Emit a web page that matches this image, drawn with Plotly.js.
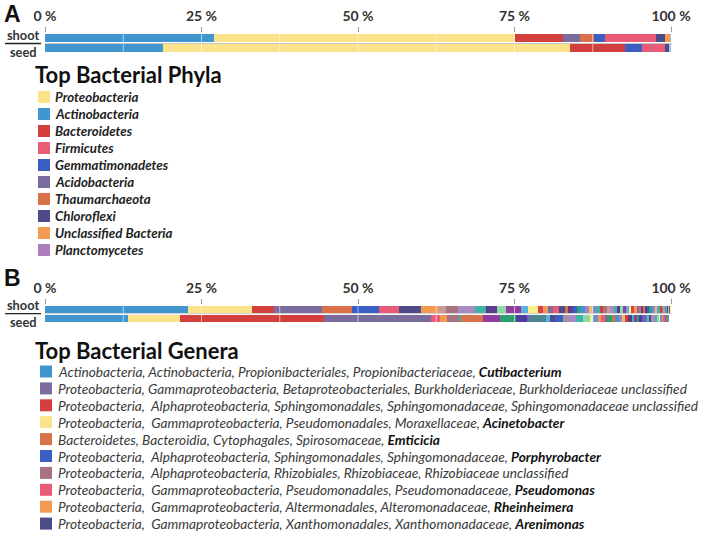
<!DOCTYPE html>
<html><head><meta charset="utf-8">
<script src="https://cdn.plot.ly/plotly-3.0.1.min.js"></script>
<style>html,body{margin:0;padding:0;background:#fff}#chart{width:708px;height:533px}</style>
</head><body><div id="chart"></div>
<script>
// ---------- DATA ----------
const samples = ['shoot', 'seed'];
const tickValues = [0, 25, 50, 75, 100];
const tickLabels = ['0 %', '25 %', '50 %', '75 %', '100 %'];

// Panel A: phyla (legend order)
const phylaNames = ['Proteobacteria', 'Actinobacteria', 'Bacteroidetes', 'Firmicutes', 'Gemmatimonadetes',
  'Acidobacteria', 'Thaumarchaeota', 'Chloroflexi', 'Unclassified Bacteria', 'Planctomycetes'];
const phylaColors = ['#fce38a', '#4096cf', '#d33f3c', '#ea5b78', '#3a5ec4',
  '#7a6c9d', '#d9714b', '#4d4b8a', '#f49a50', '#ad80bd'];
// stacking order and values (% relative abundance) per sample
const phylaShootOrder = ['Actinobacteria', 'Proteobacteria', 'Bacteroidetes', 'Acidobacteria', 'Thaumarchaeota',
  'Gemmatimonadetes', 'Firmicutes', 'Chloroflexi', 'Unclassified Bacteria', 'Other'];
const phylaShootValues = [27.0, 48.1, 7.7, 2.6, 2.3, 1.8, 8.1, 1.5, 0.7, 0.3];
const phylaSeedOrder = ['Actinobacteria', 'Proteobacteria', 'Bacteroidetes', 'Gemmatimonadetes', 'Firmicutes',
  'Chloroflexi', 'Other'];
const phylaSeedValues = [18.8, 65.0, 8.8, 2.7, 3.7, 0.7, 0.3];

// Panel B: genera (legend order)
const generaNames = ['Cutibacterium', 'Burkholderiaceae unclassified', 'Sphingomonadaceae unclassified',
  'Acinetobacter', 'Emticicia', 'Porphyrobacter', 'Rhizobiaceae unclassified', 'Pseudomonas',
  'Rheinheimera', 'Arenimonas'];
const generaLineage = [
  'Actinobacteria, Actinobacteria, Propionibacteriales, Propionibacteriaceae,',
  'Proteobacteria, Gammaproteobacteria, Betaproteobacteriales, Burkholderiaceae,',
  'Proteobacteria,\u00a0 Alphaproteobacteria, Sphingomonadales, Sphingomonadaceae,',
  'Proteobacteria,\u00a0 Gammaproteobacteria, Pseudomonadales, Moraxellaceae,',
  'Bacteroidetes, Bacteroidia, Cytophagales, Spirosomaceae,',
  'Proteobacteria,\u00a0 Alphaproteobacteria, Sphingomonadales, Sphingomonadaceae,',
  'Proteobacteria,\u00a0 Alphaproteobacteria, Rhizobiales, Rhizobiaceae,',
  'Proteobacteria,\u00a0 Gammaproteobacteria, Pseudomonadales, Pseudomonadaceae,',
  'Proteobacteria,\u00a0 Gammaproteobacteria, Altermonadales, Alteromonadaceae,',
  'Proteobacteria,\u00a0 Gammaproteobacteria, Xanthomonadales, Xanthomonadaceae,'];
const generaBold = [true, false, false, true, true, true, false, true, true, true];
const generaColors = ['#4096cf', '#7a6c9d', '#d33f3c', '#fce38a', '#d9714b', '#3a5ec4', '#a8737f',
  '#ea5b78', '#f49a50', '#4d4b8a'];

const shootGenusOrder = ['Cutibacterium', 'Acinetobacter', 'Sphingomonadaceae unclassified',
  'Burkholderiaceae unclassified', 'Emticicia', 'Porphyrobacter', 'Pseudomonas', 'Arenimonas',
  'Rheinheimera', 'other', 'Rhizobiaceae unclassified'];
const shootGenusValues = [22.8, 10.2, 3.6, 7.7, 4.8, 4.2, 3.2, 3.6, 2.8, 1.1, 2.0];
const shootOtherValues = [2.7, 1.7, 1.8, 1.5, 2.4, 1.0, 1.6, 0.9, 0.8, 0.7, 1.0, 0.9, 0.5, 0.9, 0.6, 0.5,
  0.8, 0.6, 0.7, 0.5, 0.6, 0.4, 0.7, 0.5, 0.6, 0.4, 0.5, 0.6, 0.4, 0.5, 0.3, 0.5, 0.4, 0.4, 0.3, 0.3,
  0.3, 0.4, 0.3, 0.3, 0.4, 0.3, 0.2, 0.3, 0.2, 0.3, 0.2, 0.2, 0.2, 0.2, 0.2, 0.1, 0.2, 0.1, 0.1];

const seedGenusOrder = ['Cutibacterium', 'Acinetobacter', 'Sphingomonadaceae unclassified',
  'Burkholderiaceae unclassified', 'Pseudomonas', 'Rheinheimera', 'Rhizobiaceae unclassified', 'other',
  'Emticicia', 'other', 'other', 'other', 'other', 'other', 'other', 'other', 'Porphyrobacter'];
const seedGenusValues = [13.3, 8.3, 22.9, 17.2, 1.4, 1.1, 2.0, 0.3, 3.5, 2.7, 2.5, 1.8, 0.3, 2.7, 0.6, 0.8, 1.4];
const seedOtherValues = [0.8, 1.3, 1.1, 1.0, 0.6, 0.7, 0.5, 0.6, 0.4, 0.8, 0.5, 0.6, 0.4, 0.5, 0.6, 0.5,
  0.4, 0.5, 0.3, 0.4, 0.5, 0.3, 0.4, 0.3, 0.4, 0.3, 0.3, 0.3, 0.2, 0.3, 0.2, 0.2, 0.2, 0.2, 0.1, 0.1];

// ---------- STYLE ----------
const W = 708, H = 533;
const px = x => x / W, py = y => 1 - y / H;
const FONT = 'Lato, "Open Sans", sans-serif';
const otherPhylumColor = '#9cc3e0';
const shootOtherPalette = ['#c99a9e', '#a98bc4', '#3fb3a8', '#5b3c8c', '#8fd9a8', '#8e3d9c', '#5ab0e0', '#fdf08a',
  '#d94545', '#f49a50', '#7a6c9d', '#ea5b78', '#4d4b8a', '#d9714b', '#5b3c8c', '#3a5ec4', '#2e9e6e', '#4096cf',
  '#b07fbf', '#e8c170', '#6c8fd6', '#3fb3a8', '#d33f3c', '#a8737f'];
const seedOtherPalette = ['#3fb3a8', '#8e3d9c', '#2e9e6e', '#4b3f9b', '#7e57c2', '#4d8591', '#5ab0e0', '#4d4b8a',
  '#a8909a', '#a98bc4', '#3fb3a8', '#8fd9a8', '#fdf08a', '#6c8fd6', '#f49a50', '#ea5b78', '#7a6c9d', '#2e9e6e',
  '#d9714b', '#4096cf', '#b07fbf', '#e8c170', '#d33f3c', '#5b3c8c'];

const traces = [];
function addBar(sample, value, color, xa, ya) {
  traces.push({
    type: 'bar', orientation: 'h', x: [value], y: [sample], xaxis: xa, yaxis: ya,
    marker: { color: color, line: { width: 0 } }, showlegend: false, hoverinfo: 'x+y'
  });
}
function phylumColor(n) { const i = phylaNames.indexOf(n); return i >= 0 ? phylaColors[i] : otherPhylumColor; }
phylaShootOrder.forEach((n, i) => addBar('shoot', phylaShootValues[i], phylumColor(n), 'x', 'y'));
phylaSeedOrder.forEach((n, i) => addBar('seed', phylaSeedValues[i], phylumColor(n), 'x', 'y'));

function addGenera(sample, order, values, others, palette) {
  let k = 0;
  order.forEach((n, i) => {
    const gi = generaNames.indexOf(n);
    const c = gi >= 0 ? generaColors[gi] : palette[(k++) % palette.length];
    addBar(sample, values[i], c, 'x2', 'y2');
  });
  others.forEach(v => addBar(sample, v, palette[(k++) % palette.length], 'x2', 'y2'));
}
addGenera('shoot', shootGenusOrder, shootGenusValues, shootOtherValues, shootOtherPalette);
addGenera('seed', seedGenusOrder, seedGenusValues, seedOtherValues, seedOtherPalette);

function xax(anchor) {
  return {
    domain: [px(45), px(671)], range: [0, 100], side: 'top', anchor: anchor,
    tickmode: 'array', tickvals: tickValues, ticktext: tickLabels,
    ticks: 'outside', ticklen: 5, tickcolor: '#9a9a9a', tickwidth: 1,
    showgrid: false, zeroline: false, showline: false, fixedrange: true,
    tickfont: { family: FONT, size: 14, color: '#333', weight: 'bold' }
  };
}
function yax(top, bottom, anchor) {
  return {
    domain: [py(bottom), py(top)], type: 'category', categoryorder: 'array',
    categoryarray: ['seed', 'shoot'], range: [-0.5, 1.5], anchor: anchor,
    ticks: '', showticklabels: false, showgrid: false, zeroline: false, showline: false, fixedrange: true
  };
}

const shapes = [], annotations = [];
// white vertical guide lines across the bars, separators, underline and sample labels
[['x', 'y', 43.5], ['x2', 'y2', 313.7]].forEach(([xa, ya, sepY]) => {
  for (let k = 1; k < 8; k++) {
    shapes.push({ type: 'line', xref: xa, yref: ya + ' domain', x0: 12.5 * k, x1: 12.5 * k, y0: 0, y1: 1,
      line: { color: 'rgba(255,255,255,0.55)', width: 1 }, layer: 'above' });
  }
  shapes.push({ type: 'line', xref: 'paper', yref: 'paper', x0: px(45), x1: px(672), y0: py(sepY), y1: py(sepY),
    line: { color: '#c8c8c8', width: 1 } });
  shapes.push({ type: 'line', xref: 'paper', yref: 'paper', x0: px(5), x1: px(41), y0: py(sepY), y1: py(sepY),
    line: { color: '#222', width: 1.3 } });
  annotations.push({ text: '<b>' + samples[0] + '</b>', xref: 'paper', yref: 'paper', x: px(40.5), y: py(sepY - 8.4),
    xanchor: 'right', yanchor: 'middle', showarrow: false, font: { family: FONT, size: 12.8, color: '#333' } });
  annotations.push({ text: '<b>' + samples[1] + '</b>', xref: 'paper', yref: 'paper', x: px(39), y: py(sepY + 8.2),
    xanchor: 'right', yanchor: 'middle', showarrow: false, font: { family: FONT, size: 12.8, color: '#333' } });
});

// panel letters and titles
annotations.push({ text: '<b>A</b>', xref: 'paper', yref: 'paper', x: px(2), y: py(-1), xanchor: 'left', yanchor: 'top',
  showarrow: false, font: { family: 'Liberation Sans, Arial', size: 23, color: '#111' } });
annotations.push({ text: '<b>B</b>', xref: 'paper', yref: 'paper', x: px(2), y: py(263), xanchor: 'left', yanchor: 'top',
  showarrow: false, font: { family: 'Liberation Sans, Arial', size: 23, color: '#111' } });
annotations.push({ text: '<b>Top Bacterial Phyla</b>', xref: 'paper', yref: 'paper', x: px(33), y: py(75), xanchor: 'left',
  yanchor: 'middle', showarrow: false, font: { family: FONT, size: 22, color: '#111' } });
annotations.push({ text: '<b>Top Bacterial Genera</b>', xref: 'paper', yref: 'paper', x: px(33), y: py(350), xanchor: 'left',
  yanchor: 'middle', showarrow: false, font: { family: FONT, size: 22, color: '#111' } });

// phyla legend
phylaNames.forEach((n, i) => {
  const cy = 97 + i * 17.0;
  shapes.push({ type: 'rect', xref: 'paper', yref: 'paper', x0: px(38), x1: px(50), y0: py(cy - 6), y1: py(cy + 6),
    fillcolor: phylaColors[i], line: { width: 0 } });
  annotations.push({ text: '<b><i>' + n + '</i></b>', xref: 'paper', yref: 'paper', x: px(53), y: py(cy), xanchor: 'left',
    yanchor: 'middle', showarrow: false, font: { family: FONT, size: 13.3, color: '#222' } });
});
// genera legend
generaNames.forEach((n, i) => {
  const cy = 371.5 + i * 16.9;
  shapes.push({ type: 'rect', xref: 'paper', yref: 'paper', x0: px(40), x1: px(52), y0: py(cy - 6), y1: py(cy + 6),
    fillcolor: generaColors[i], line: { width: 0 } });
  const g = generaBold[i] ? '<b><span style="color:#111">' + n + '</span></b>' : n;
  annotations.push({ text: '<i>' + generaLineage[i] + ' ' + g + '</i>', xref: 'paper', yref: 'paper', x: px(56), y: py(cy),
    xanchor: 'left', yanchor: 'middle', showarrow: false, font: { family: FONT, size: 13.7, color: '#3a3a3a' } });
});

const layout = {
  width: W, height: H, margin: { l: 0, r: 0, t: 0, b: 0 },
  paper_bgcolor: '#fff', plot_bgcolor: '#fff', barmode: 'stack', bargap: 0.15, showlegend: false,
  xaxis: xax('y'), yaxis: yax(33, 53, 'x'),
  xaxis2: xax('y2'), yaxis2: yax(305, 323, 'x2'),
  shapes: shapes, annotations: annotations
};
Plotly.newPlot('chart', traces, layout, { staticPlot: true });
</script></body></html>
